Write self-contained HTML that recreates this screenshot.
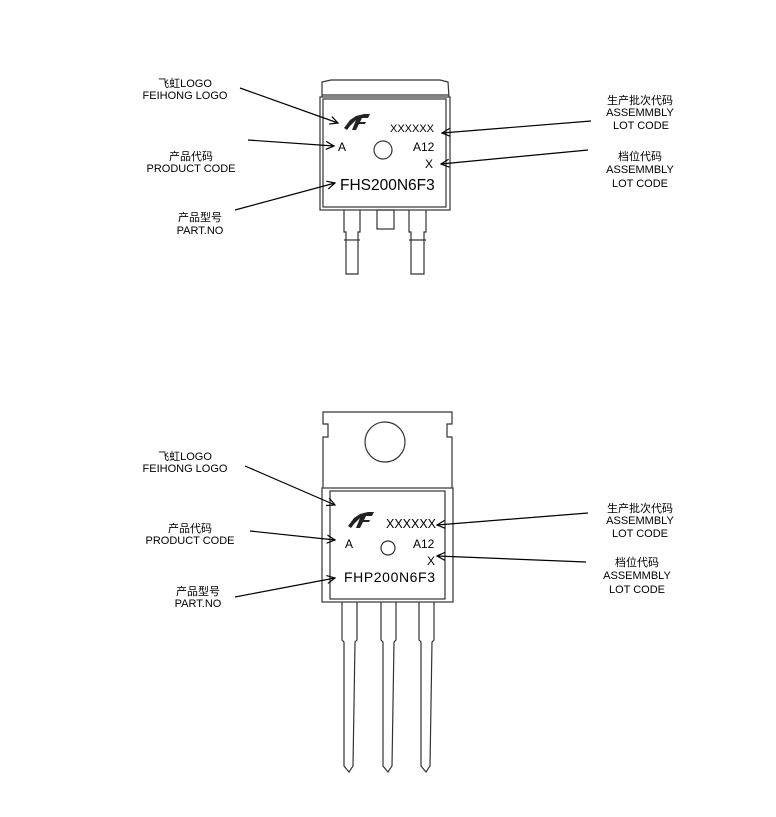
<!DOCTYPE html>
<html><head><meta charset="utf-8"><style>
html,body{margin:0;padding:0;background:#fff;width:776px;height:817px;overflow:hidden}
svg{display:block}
text{font-family:"Liberation Sans","Noto Sans CJK SC",sans-serif;fill:#000}
.l{font-size:11px;text-anchor:middle}
</style></head><body>
<svg width="776" height="817" viewBox="0 0 776 817" xmlns="http://www.w3.org/2000/svg">
<defs>
<marker id="a" markerWidth="10" markerHeight="10" refX="9" refY="5" orient="auto" markerUnits="userSpaceOnUse">
<path d="M1,1 L9,5 L1,9" fill="none" stroke="#000" stroke-width="1.2"/>
</marker>
<g id="logo">
<path d="M0,14 L6,6 L12,2 L20,0 L26,0 L24,4 L18,4 L16,8 L22,8 L21,10 L15,10 L12,16 L8,16 L12,6 L6,12 L3,16 Z" fill="#222"/>
</g>
</defs>
<g fill="none" stroke="#333" stroke-width="1.2">
<path d="M322,97 L322,82 L331,80 L440,80 L448,82 L449,97"/>
<line x1="322" y1="95" x2="449" y2="95"/>
<rect x="320" y="97" width="130" height="113" fill="none"/>
<rect x="323" y="99" width="123" height="108"/>
<rect x="377" y="210" width="17" height="19"/>
<path d="M344,210 L344,232 L346,232 L346,274 L358,274 L358,232 L360,232 L360,210"/>
<path d="M344,240 L360,240"/>
<path d="M409,210 L409,232 L411,232 L411,274 L424,274 L424,232 L426,232 L426,210"/>
<path d="M409,240 L426,240"/>
<circle cx="383" cy="150" r="9"/>
<path d="M323,488 L323,437 L328,437 L328,424 L323,424 L323,412 L452,412 L452,424 L447,424 L447,437 L452,437 L452,488"/>
<circle cx="385" cy="442" r="20"/>
<rect x="322" y="488" width="131" height="114"/>
<rect x="330" y="491" width="115" height="108"/>
<path d="M342,602 L342,640 L344,642 L344,766 L349,772 L353,766 L355,642 L357,640 L357,602"/>
<path d="M381,602 L381,640 L383,642 L383,766 L388,772 L392,766 L394,642 L396,640 L396,602"/>
<path d="M419,602 L419,640 L421,642 L421,766 L426,772 L430,766 L432,642 L434,640 L434,602"/>
<circle cx="388" cy="548" r="7"/>
</g>
<use href="#logo" x="344" y="114"/>
<text x="390" y="132" font-size="11">XXXXXX</text>
<text x="338" y="151" font-size="12">A</text>
<text x="413" y="151" font-size="12">A12</text>
<text x="425" y="168" font-size="12">X</text>
<text x="340" y="190" font-size="15.5">FHS200N6F3</text>
<use href="#logo" x="348" y="512"/>
<text x="386" y="528" font-size="12.5">XXXXXX</text>
<text x="345" y="548" font-size="12">A</text>
<text x="413" y="548" font-size="12">A12</text>
<text x="427" y="565" font-size="12">X</text>
<text x="344" y="582" font-size="14" letter-spacing="0.6">FHP200N6F3</text>
<g class="l">
<text x="185" y="87" class="l">飞虹LOGO</text><text x="185" y="99" class="l">FEIHONG LOGO</text>
<text x="191" y="160" class="l">产品代码</text><text x="191" y="172" class="l">PRODUCT CODE</text>
<text x="200" y="221" class="l">产品型号</text><text x="200" y="234" class="l">PART.NO</text>
<text x="640" y="104" class="l">生产批次代码</text><text x="640" y="116" class="l">ASSEMMBLY</text><text x="641" y="129" class="l">LOT CODE</text>
<text x="640" y="160" class="l">档位代码</text><text x="640" y="173" class="l">ASSEMMBLY</text><text x="640" y="187" class="l">LOT CODE</text>
<text x="185" y="460" class="l">飞虹LOGO</text><text x="185" y="472" class="l">FEIHONG LOGO</text>
<text x="190" y="532" class="l">产品代码</text><text x="190" y="544" class="l">PRODUCT CODE</text>
<text x="198" y="595" class="l">产品型号</text><text x="198" y="607" class="l">PART.NO</text>
<text x="640" y="512" class="l">生产批次代码</text><text x="640" y="524" class="l">ASSEMMBLY</text><text x="640" y="537" class="l">LOT CODE</text>
<text x="637" y="566" class="l">档位代码</text><text x="637" y="579" class="l">ASSEMMBLY</text><text x="637" y="593" class="l">LOT CODE</text>
</g>
<g stroke="#000" stroke-width="1.2" fill="none" marker-end="url(#a)">
<line x1="240" y1="88" x2="338" y2="123"/>
<line x1="248" y1="140" x2="334" y2="146"/>
<line x1="235" y1="210" x2="335" y2="183"/>
<line x1="591" y1="121" x2="442" y2="133"/>
<line x1="588" y1="150" x2="441" y2="164"/>
<line x1="245" y1="466" x2="335" y2="505"/>
<line x1="250" y1="531" x2="335" y2="540"/>
<line x1="235" y1="597" x2="335" y2="578"/>
<line x1="588" y1="513" x2="437" y2="525"/>
<line x1="586" y1="562" x2="437" y2="556"/>
</g>
</svg>
</body></html>
